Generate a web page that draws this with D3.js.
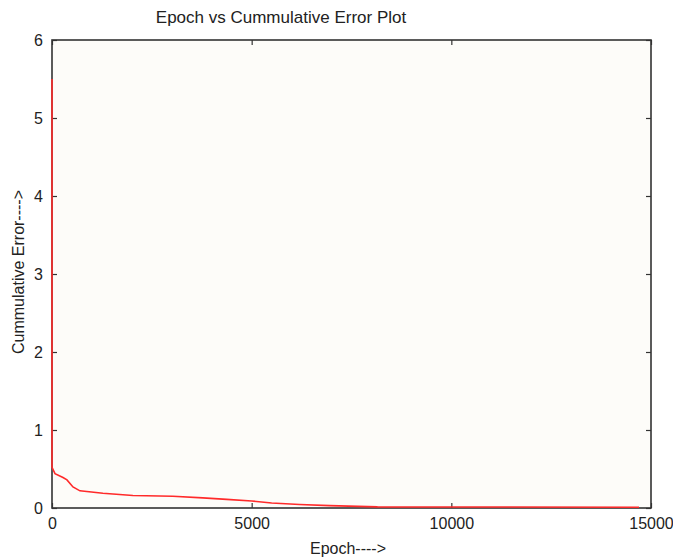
<!DOCTYPE html>
<html>
<head>
<meta charset="utf-8">
<script src="https://cdn.jsdelivr.net/npm/d3@7"></script>
<style>
  html, body { margin: 0; padding: 0; background: #ffffff; }
  svg { display: block; font-family: "Liberation Sans", Arial, sans-serif; }
</style>
</head>
<body>
<svg id="chart" width="673" height="557"></svg>
<script>
// ---- data ----
const title = "Epoch vs Cummulative Error Plot";
const xLabel = "Epoch---->";
const yLabel = "Cummulative Error---->";
const xTicks = [0, 5000, 10000, 15000];
const yTicks = [0, 1, 2, 3, 4, 5, 6];
const epochs = [0, 0, 75, 275, 375, 525, 700, 1275, 2025, 3025, 3775, 4375, 5000, 5500, 6200, 6950, 8150, 14700];
const errors = [5.5, 0.52, 0.44, 0.39, 0.36, 0.27, 0.22, 0.19, 0.16, 0.15, 0.13, 0.11, 0.09, 0.065, 0.045, 0.03, 0.015, 0.01];

// ---- layout ----
const svg = d3.select("#chart");
const mLeft = 52, mRight = 651, mTop = 40, mBottom = 508;

const x = d3.scaleLinear().domain([0, 15000]).range([mLeft, mRight]);
const y = d3.scaleLinear().domain([0, 6]).range([mBottom, mTop]);

// plot background
svg.append("rect")
  .attr("x", mLeft).attr("y", mTop)
  .attr("width", mRight - mLeft).attr("height", mBottom - mTop)
  .attr("fill", "#fdfcf9");

// axes (ticks inward)
const tickLen = 5;
const fontSize = 16;
const axisColor = "#333";

const gB = svg.append("g").attr("transform", `translate(0,${mBottom})`)
  .call(d3.axisBottom(x).tickValues(xTicks).tickSizeInner(-tickLen).tickSizeOuter(0).tickPadding(10).tickFormat(d3.format("d")));
const gT = svg.append("g").attr("transform", `translate(0,${mTop})`)
  .call(d3.axisTop(x).tickValues(xTicks).tickSizeInner(-tickLen).tickSizeOuter(0).tickFormat(""));
const gL = svg.append("g").attr("transform", `translate(${mLeft},0)`)
  .call(d3.axisLeft(y).tickValues(yTicks).tickSizeInner(-tickLen).tickSizeOuter(0).tickPadding(9).tickFormat(d3.format("d")));
const gR = svg.append("g").attr("transform", `translate(${mRight},0)`)
  .call(d3.axisRight(y).tickValues(yTicks).tickSizeInner(-tickLen).tickSizeOuter(0).tickFormat(""));

[gB, gT, gL, gR].forEach(g => {
  g.select(".domain").remove();
  g.selectAll(".tick line").attr("stroke", axisColor).attr("stroke-width", 1.2);
  g.selectAll(".tick text")
    .attr("font-family", "\"Liberation Sans\", Arial, sans-serif")
    .attr("font-size", fontSize)
    .attr("fill", "#222");
});

// frame
svg.append("rect")
  .attr("x", mLeft).attr("y", mTop)
  .attr("width", mRight - mLeft).attr("height", mBottom - mTop)
  .attr("fill", "none")
  .attr("stroke", axisColor)
  .attr("stroke-width", 1.6);

// data line (drawn over the frame)
const pts = epochs.map((e, i) => [e, errors[i]]);
svg.append("path")
  .datum(pts)
  .attr("fill", "none")
  .attr("stroke", "#ff2a2a")
  .attr("stroke-width", 1.6)
  .attr("d", d3.line().x(d => x(d[0])).y(d => y(d[1])));

// title
svg.append("text")
  .attr("x", 281).attr("y", 23)
  .attr("text-anchor", "middle")
  .attr("font-size", 17)
  .attr("fill", "#222")
  .text(title);

// x label
svg.append("text")
  .attr("x", 348).attr("y", 554)
  .attr("text-anchor", "middle")
  .attr("font-size", 16)
  .attr("fill", "#222")
  .text(xLabel);

// y label
svg.append("text")
  .attr("transform", `translate(24,272) rotate(-90)`)
  .attr("text-anchor", "middle")
  .attr("font-size", 16)
  .attr("fill", "#222")
  .text(yLabel);
</script>
</body>
</html>
